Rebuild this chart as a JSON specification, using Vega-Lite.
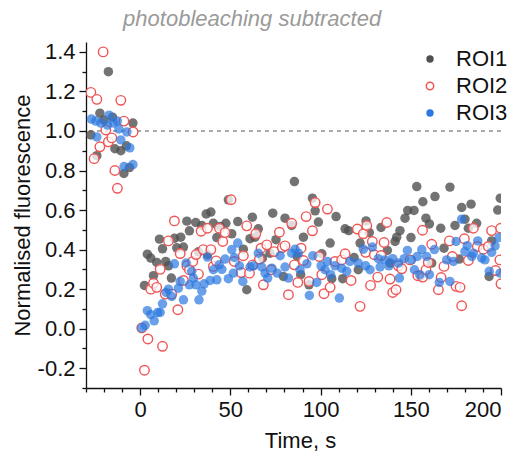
{
  "$schema": "https://vega.github.io/schema/vega-lite/v6.json",
  "width": 415,
  "height": 346,
  "autosize": {"type": "none"},
  "padding": {"left": 86, "top": 42, "right": 27, "bottom": 75},
  "background": "white",
  "config": {
    "view": {"stroke": null},
    "font": "Liberation Sans",
    "axis": {"grid": false, "domainColor": "#111", "tickColor": "#111", "domainWidth": 1.3, "tickWidth": 1.3, "labelColor": "#111", "titleColor": "#111", "labelFont": "Liberation Sans", "titleFont": "Liberation Sans", "titleFontWeight": "normal"}
  },
  "title": {"text": "photobleaching subtracted", "font": "Liberation Sans", "fontStyle": "italic", "fontWeight": "normal", "fontSize": 22, "color": "#9a9a9a", "anchor": "start", "dx": 112, "offset": 10},
  "data": {"values": [
    {"s":"ROI1","t":-27.3,"f":0.98},{"s":"ROI1","t":-24,"f":0.875},{"s":"ROI1","t":-22.3,"f":1.09},{"s":"ROI1","t":-20,"f":1.055},{"s":"ROI1","t":-17.6,"f":1.3},{"s":"ROI1","t":-15.3,"f":1.07},{"s":"ROI1","t":-14,"f":0.91},{"s":"ROI1","t":-10.7,"f":0.9},{"s":"ROI1","t":-9,"f":0.785},{"s":"ROI1","t":-7.6,"f":0.925},{"s":"ROI1","t":-5.9,"f":0.815},{"s":"ROI1","t":-4,"f":1.04},
    {"s":"ROI1","t":2.4,"f":0.219},{"s":"ROI1","t":4,"f":0.377},{"s":"ROI1","t":5.9,"f":0.357},{"s":"ROI1","t":7.4,"f":0.268},{"s":"ROI1","t":9.2,"f":0.335},{"s":"ROI1","t":10.7,"f":0.453},{"s":"ROI1","t":12.4,"f":0.404},{"s":"ROI1","t":14.2,"f":0.34},{"s":"ROI1","t":15.7,"f":0.318},{"s":"ROI1","t":17.3,"f":0.256},{"s":"ROI1","t":19,"f":0.457},{"s":"ROI1","t":20.3,"f":0.409},{"s":"ROI1","t":22.5,"f":0.463},{"s":"ROI1","t":24,"f":0.413},{"s":"ROI1","t":25.9,"f":0.544},{"s":"ROI1","t":27.3,"f":0.495},{"s":"ROI1","t":30.8,"f":0.537},{"s":"ROI1","t":32.3,"f":0.389},{"s":"ROI1","t":34.2,"f":0.522},{"s":"ROI1","t":36.6,"f":0.58},{"s":"ROI1","t":37.3,"f":0.374},{"s":"ROI1","t":39.2,"f":0.59},{"s":"ROI1","t":40.6,"f":0.533},{"s":"ROI1","t":42.5,"f":0.461},{"s":"ROI1","t":44.3,"f":0.517},{"s":"ROI1","t":47.5,"f":0.533},{"s":"ROI1","t":48.9,"f":0.652},{"s":"ROI1","t":50.8,"f":0.48},{"s":"ROI1","t":54.1,"f":0.542},{"s":"ROI1","t":57.2,"f":0.402},{"s":"ROI1","t":59.1,"f":0.197},{"s":"ROI1","t":60.9,"f":0.455},{"s":"ROI1","t":62.2,"f":0.564},{"s":"ROI1","t":63.7,"f":0.463},{"s":"ROI1","t":65.5,"f":0.505},{"s":"ROI1","t":67.8,"f":0.357},{"s":"ROI1","t":72,"f":0.382},{"s":"ROI1","t":73.5,"f":0.584},{"s":"ROI1","t":75.3,"f":0.45},{"s":"ROI1","t":79.4,"f":0.264},{"s":"ROI1","t":80.3,"f":0.559},{"s":"ROI1","t":84,"f":0.522},{"s":"ROI1","t":85.5,"f":0.744},{"s":"ROI1","t":87.1,"f":0.365},{"s":"ROI1","t":89,"f":0.273},{"s":"ROI1","t":90.5,"f":0.463},{"s":"ROI1","t":93.6,"f":0.222},{"s":"ROI1","t":95.5,"f":0.66},{"s":"ROI1","t":97,"f":0.596},{"s":"ROI1","t":98.8,"f":0.539},{"s":"ROI1","t":100.7,"f":0.379},{"s":"ROI1","t":105.3,"f":0.433},{"s":"ROI1","t":106.2,"f":0.253},{"s":"ROI1","t":108.6,"f":0.567},{"s":"ROI1","t":112.3,"f":0.253},{"s":"ROI1","t":113.6,"f":0.505},{"s":"ROI1","t":115.6,"f":0.496},{"s":"ROI1","t":118.6,"f":0.36},{"s":"ROI1","t":120.9,"f":0.298},{"s":"ROI1","t":121.9,"f":0.433},{"s":"ROI1","t":125.2,"f":0.545},{"s":"ROI1","t":127,"f":0.486},{"s":"ROI1","t":133.5,"f":0.512},{"s":"ROI1","t":137,"f":0.396},{"s":"ROI1","t":138.5,"f":0.332},{"s":"ROI1","t":141.3,"f":0.441},{"s":"ROI1","t":142.2,"f":0.463},{"s":"ROI1","t":144,"f":0.496},{"s":"ROI1","t":146.8,"f":0.559},{"s":"ROI1","t":148.3,"f":0.598},{"s":"ROI1","t":150.1,"f":0.461},{"s":"ROI1","t":151.8,"f":0.598},{"s":"ROI1","t":153.3,"f":0.719},{"s":"ROI1","t":155.1,"f":0.264},{"s":"ROI1","t":156.7,"f":0.642},{"s":"ROI1","t":158.4,"f":0.559},{"s":"ROI1","t":160.3,"f":0.53},{"s":"ROI1","t":161.6,"f":0.332},{"s":"ROI1","t":163.4,"f":0.668},{"s":"ROI1","t":166.6,"f":0.508},{"s":"ROI1","t":168.4,"f":0.407},{"s":"ROI1","t":171.7,"f":0.716},{"s":"ROI1","t":174.5,"f":0.522},{"s":"ROI1","t":176.9,"f":0.352},{"s":"ROI1","t":178.2,"f":0.613},{"s":"ROI1","t":180,"f":0.554},{"s":"ROI1","t":181.9,"f":0.508},{"s":"ROI1","t":183.4,"f":0.63},{"s":"ROI1","t":186.5,"f":0.533},{"s":"ROI1","t":193.4,"f":0.264},{"s":"ROI1","t":194.8,"f":0.444},{"s":"ROI1","t":198.2,"f":0.6},{"s":"ROI1","t":199.6,"f":0.66},
    {"s":"ROI2","t":-27.3,"f":1.195},{"s":"ROI2","t":-25.5,"f":0.86},{"s":"ROI2","t":-24,"f":1.16},{"s":"ROI2","t":-22.3,"f":0.92},{"s":"ROI2","t":-20.5,"f":1.4},{"s":"ROI2","t":-19,"f":1.005},{"s":"ROI2","t":-17.6,"f":0.945},{"s":"ROI2","t":-15.7,"f":0.965},{"s":"ROI2","t":-14,"f":0.8},{"s":"ROI2","t":-12.6,"f":0.71},{"s":"ROI2","t":-10.7,"f":1.155},{"s":"ROI2","t":-9,"f":1.05},{"s":"ROI2","t":-3.9,"f":0.995},
    {"s":"ROI2","t":0.9,"f":0.004},{"s":"ROI2","t":2.4,"f":-0.21},{"s":"ROI2","t":4.3,"f":-0.052},{"s":"ROI2","t":5.9,"f":0.2},{"s":"ROI2","t":7.4,"f":0.23},{"s":"ROI2","t":9.2,"f":0.209},{"s":"ROI2","t":11.1,"f":0.3},{"s":"ROI2","t":12.4,"f":-0.089},{"s":"ROI2","t":13.9,"f":0.175},{"s":"ROI2","t":15.7,"f":0.444},{"s":"ROI2","t":17.5,"f":0.175},{"s":"ROI2","t":19,"f":0.545},{"s":"ROI2","t":20.9,"f":0.096},{"s":"ROI2","t":22.2,"f":0.38},{"s":"ROI2","t":24,"f":0.244},{"s":"ROI2","t":25.9,"f":0.318},{"s":"ROI2","t":27.3,"f":0.298},{"s":"ROI2","t":29.2,"f":0.34},{"s":"ROI2","t":31,"f":0.375},{"s":"ROI2","t":32.3,"f":0.276},{"s":"ROI2","t":33.8,"f":0.493},{"s":"ROI2","t":35,"f":0.4},{"s":"ROI2","t":37.3,"f":0.508},{"s":"ROI2","t":39.2,"f":0.4},{"s":"ROI2","t":40.6,"f":0.315},{"s":"ROI2","t":42.1,"f":0.343},{"s":"ROI2","t":43.9,"f":0.508},{"s":"ROI2","t":45.8,"f":0.441},{"s":"ROI2","t":47.1,"f":0.486},{"s":"ROI2","t":50.4,"f":0.652},{"s":"ROI2","t":52.2,"f":0.34},{"s":"ROI2","t":56,"f":0.284},{"s":"ROI2","t":57.2,"f":0.369},{"s":"ROI2","t":59.1,"f":0.52},{"s":"ROI2","t":60.6,"f":0.281},{"s":"ROI2","t":62.4,"f":0.323},{"s":"ROI2","t":64.1,"f":0.48},{"s":"ROI2","t":66.1,"f":0.352},{"s":"ROI2","t":67,"f":0.407},{"s":"ROI2","t":68.3,"f":0.222},{"s":"ROI2","t":70.2,"f":0.424},{"s":"ROI2","t":72.6,"f":0.298},{"s":"ROI2","t":74.2,"f":0.39},{"s":"ROI2","t":77.2,"f":0.488},{"s":"ROI2","t":78.8,"f":0.41},{"s":"ROI2","t":80.3,"f":0.419},{"s":"ROI2","t":82.2,"f":0.172},{"s":"ROI2","t":84,"f":0.533},{"s":"ROI2","t":85.5,"f":0.323},{"s":"ROI2","t":87.4,"f":0.234},{"s":"ROI2","t":89.2,"f":0.407},{"s":"ROI2","t":90.5,"f":0.345},{"s":"ROI2","t":92,"f":0.567},{"s":"ROI2","t":93.6,"f":0.239},{"s":"ROI2","t":95.5,"f":0.495},{"s":"ROI2","t":97,"f":0.638},{"s":"ROI2","t":99.2,"f":0.365},{"s":"ROI2","t":100.7,"f":0.273},{"s":"ROI2","t":101.9,"f":0.177},{"s":"ROI2","t":103.8,"f":0.605},{"s":"ROI2","t":105.3,"f":0.209},{"s":"ROI2","t":108,"f":0.34},{"s":"ROI2","t":111.7,"f":0.348},{"s":"ROI2","t":113.6,"f":0.379},{"s":"ROI2","t":116.9,"f":0.244},{"s":"ROI2","t":120.4,"f":0.504},{"s":"ROI2","t":121.9,"f":0.113},{"s":"ROI2","t":123.7,"f":0.48},{"s":"ROI2","t":125,"f":0.386},{"s":"ROI2","t":125.6,"f":0.522},{"s":"ROI2","t":127.7,"f":0.219},{"s":"ROI2","t":128.7,"f":0.441},{"s":"ROI2","t":129.8,"f":0.374},{"s":"ROI2","t":131.7,"f":0.261},{"s":"ROI2","t":133.5,"f":0.37},{"s":"ROI2","t":135.2,"f":0.436},{"s":"ROI2","t":136.7,"f":0.537},{"s":"ROI2","t":138.5,"f":0.251},{"s":"ROI2","t":140,"f":0.183},{"s":"ROI2","t":141.8,"f":0.197},{"s":"ROI2","t":143.1,"f":0.318},{"s":"ROI2","t":145,"f":0.303},{"s":"ROI2","t":149.6,"f":0.348},{"s":"ROI2","t":153.9,"f":0.268},{"s":"ROI2","t":156.5,"f":0.498},{"s":"ROI2","t":156.6,"f":0.261},{"s":"ROI2","t":158.4,"f":0.298},{"s":"ROI2","t":159.7,"f":0.335},{"s":"ROI2","t":161.6,"f":0.427},{"s":"ROI2","t":165.3,"f":0.197},{"s":"ROI2","t":166.8,"f":0.259},{"s":"ROI2","t":168.4,"f":0.315},{"s":"ROI2","t":171.4,"f":0.444},{"s":"ROI2","t":173,"f":0.365},{"s":"ROI2","t":175.1,"f":0.214},{"s":"ROI2","t":177.3,"f":0.209},{"s":"ROI2","t":178.2,"f":0.116},{"s":"ROI2","t":179.7,"f":0.455},{"s":"ROI2","t":181.9,"f":0.345},{"s":"ROI2","t":184.7,"f":0.508},{"s":"ROI2","t":186.9,"f":0.416},{"s":"ROI2","t":190.2,"f":0.402},{"s":"ROI2","t":193,"f":0.416},{"s":"ROI2","t":194.8,"f":0.496},{"s":"ROI2","t":197,"f":0.294},{"s":"ROI2","t":199.4,"f":0.348},{"s":"ROI2","t":199.8,"f":0.508},{"s":"ROI2","t":200,"f":0.227},
    {"s":"ROI3","t":-27,"f":1.06},{"s":"ROI3","t":-24.6,"f":1.05},{"s":"ROI3","t":-24,"f":0.97},{"s":"ROI3","t":-21.8,"f":1.04},{"s":"ROI3","t":-18.1,"f":1.03},{"s":"ROI3","t":-17.2,"f":1.08},{"s":"ROI3","t":-14.8,"f":1.04},{"s":"ROI3","t":-12.6,"f":1.05},{"s":"ROI3","t":-11.8,"f":1.01},{"s":"ROI3","t":-10.7,"f":0.955},{"s":"ROI3","t":-8.9,"f":0.82},{"s":"ROI3","t":-7.4,"f":0.995},{"s":"ROI3","t":-5.7,"f":0.915},{"s":"ROI3","t":-4,"f":0.83},
    {"s":"ROI3","t":0.9,"f":0.004},{"s":"ROI3","t":2.8,"f":0.017},{"s":"ROI3","t":4,"f":0.091},{"s":"ROI3","t":5.9,"f":0.071},{"s":"ROI3","t":7.8,"f":0.04},{"s":"ROI3","t":9.8,"f":0.082},{"s":"ROI3","t":11.1,"f":0.082},{"s":"ROI3","t":12.4,"f":0.126},{"s":"ROI3","t":14.4,"f":0.183},{"s":"ROI3","t":15.7,"f":0.2},{"s":"ROI3","t":17.5,"f":0.163},{"s":"ROI3","t":19,"f":0.328},{"s":"ROI3","t":21.2,"f":0.205},{"s":"ROI3","t":22.2,"f":0.239},{"s":"ROI3","t":24,"f":0.146},{"s":"ROI3","t":25.5,"f":0.332},{"s":"ROI3","t":27.3,"f":0.222},{"s":"ROI3","t":28.6,"f":0.29},{"s":"ROI3","t":29.5,"f":0.256},{"s":"ROI3","t":31,"f":0.222},{"s":"ROI3","t":32.6,"f":0.146},{"s":"ROI3","t":34.2,"f":0.19},{"s":"ROI3","t":35.5,"f":0.227},{"s":"ROI3","t":37.3,"f":0.362},{"s":"ROI3","t":38.8,"f":0.244},{"s":"ROI3","t":40.6,"f":0.298},{"s":"ROI3","t":42.5,"f":0.247},{"s":"ROI3","t":43.8,"f":0.323},{"s":"ROI3","t":45.3,"f":0.3},{"s":"ROI3","t":47.1,"f":0.352},{"s":"ROI3","t":48.9,"f":0.253},{"s":"ROI3","t":50.8,"f":0.4},{"s":"ROI3","t":51.7,"f":0.281},{"s":"ROI3","t":52.2,"f":0.36},{"s":"ROI3","t":54.1,"f":0.433},{"s":"ROI3","t":55,"f":0.318},{"s":"ROI3","t":56.9,"f":0.239},{"s":"ROI3","t":60.9,"f":0.312},{"s":"ROI3","t":62.8,"f":0.318},{"s":"ROI3","t":65.5,"f":0.382},{"s":"ROI3","t":67.4,"f":0.312},{"s":"ROI3","t":69.3,"f":0.281},{"s":"ROI3","t":70.7,"f":0.256},{"s":"ROI3","t":73,"f":0.306},{"s":"ROI3","t":76,"f":0.281},{"s":"ROI3","t":77.6,"f":0.369},{"s":"ROI3","t":80.3,"f":0.312},{"s":"ROI3","t":82.2,"f":0.256},{"s":"ROI3","t":84,"f":0.382},{"s":"ROI3","t":85.9,"f":0.402},{"s":"ROI3","t":87.7,"f":0.382},{"s":"ROI3","t":88.6,"f":0.298},{"s":"ROI3","t":92.4,"f":0.328},{"s":"ROI3","t":93.8,"f":0.168},{"s":"ROI3","t":95.7,"f":0.369},{"s":"ROI3","t":97.9,"f":0.234},{"s":"ROI3","t":100.3,"f":0.318},{"s":"ROI3","t":102.5,"f":0.298},{"s":"ROI3","t":103.8,"f":0.34},{"s":"ROI3","t":105.6,"f":0.273},{"s":"ROI3","t":108,"f":0.318},{"s":"ROI3","t":110.4,"f":0.155},{"s":"ROI3","t":111.7,"f":0.306},{"s":"ROI3","t":114.5,"f":0.29},{"s":"ROI3","t":116.3,"f":0.34},{"s":"ROI3","t":120.9,"f":0.332},{"s":"ROI3","t":123.7,"f":0.402},{"s":"ROI3","t":125,"f":0.318},{"s":"ROI3","t":127.4,"f":0.298},{"s":"ROI3","t":128.7,"f":0.413},{"s":"ROI3","t":132,"f":0.354},{"s":"ROI3","t":133,"f":0.312},{"s":"ROI3","t":135.7,"f":0.348},{"s":"ROI3","t":137.9,"f":0.318},{"s":"ROI3","t":140,"f":0.354},{"s":"ROI3","t":143.1,"f":0.332},{"s":"ROI3","t":143.7,"f":0.256},{"s":"ROI3","t":146.4,"f":0.354},{"s":"ROI3","t":148.1,"f":0.396},{"s":"ROI3","t":150.4,"f":0.348},{"s":"ROI3","t":152,"f":0.298},{"s":"ROI3","t":153.6,"f":0.365},{"s":"ROI3","t":155,"f":0.273},{"s":"ROI3","t":156.1,"f":0.4},{"s":"ROI3","t":158.8,"f":0.365},{"s":"ROI3","t":160.3,"f":0.273},{"s":"ROI3","t":163.1,"f":0.4},{"s":"ROI3","t":165.8,"f":0.234},{"s":"ROI3","t":169.9,"f":0.348},{"s":"ROI3","t":171.7,"f":0.239},{"s":"ROI3","t":173.6,"f":0.34},{"s":"ROI3","t":175.1,"f":0.441},{"s":"ROI3","t":178.2,"f":0.554},{"s":"ROI3","t":180,"f":0.39},{"s":"ROI3","t":181.3,"f":0.42},{"s":"ROI3","t":183.8,"f":0.365},{"s":"ROI3","t":184.7,"f":0.382},{"s":"ROI3","t":187.1,"f":0.444},{"s":"ROI3","t":189.3,"f":0.357},{"s":"ROI3","t":191.1,"f":0.348},{"s":"ROI3","t":193.5,"f":0.29},{"s":"ROI3","t":194.8,"f":0.386},{"s":"ROI3","t":196.7,"f":0.419},{"s":"ROI3","t":198.9,"f":0.461},{"s":"ROI3","t":199.5,"f":0.281}
  ]},
  "resolve": {"axis": {"x": "independent", "y": "independent"}},
  "layer": [
    {
      "mark": {"type": "rule", "strokeDash": [4, 4], "color": "#aaaaaa", "strokeWidth": 1.3},
      "encoding": {
        "y": {"datum": 1, "type": "quantitative", "scale": {"domain": [-0.3, 1.45], "nice": false, "zero": false},
          "axis": {"orient": "left", "values": [-0.3, -0.1, 0.1, 0.3, 0.5, 0.7, 0.9, 1.1, 1.3], "labels": false, "title": null, "domain": false, "tickSize": 4}}
      }
    },
    {
      "mark": {"type": "rule", "opacity": 0},
      "encoding": {
        "x": {"datum": -30, "type": "quantitative", "scale": {"domain": [-30, 200], "nice": false, "zero": false},
          "axis": {"orient": "bottom", "values": [-30, -20, -10, 10, 20, 30, 40, 60, 70, 80, 90, 110, 120, 130, 140, 160, 170, 180, 190], "labels": false, "title": null, "domain": false, "tickSize": 4}}
      }
    },
    {
      "mark": {"type": "point", "filled": false, "size": 90, "strokeWidth": 1.4, "opacity": 1, "clip": true},
      "encoding": {
        "x": {"field": "t", "type": "quantitative", "scale": {"domain": [-30, 200], "nice": false, "zero": false},
          "axis": {"orient": "bottom", "values": [0, 50, 100, 150, 200], "title": "Time, s", "tickSize": 7, "labelFontSize": 22, "titleFontSize": 22, "labelPadding": 4, "titlePadding": 10, "titleX": 214}},
        "y": {"field": "f", "type": "quantitative", "scale": {"domain": [-0.3, 1.45], "nice": false, "zero": false},
          "axis": {"orient": "left", "values": [-0.2, 0, 0.2, 0.4, 0.6, 0.8, 1, 1.2, 1.4], "format": ".1f", "labelExpr": "replace(datum.label, '\u2212', '-')", "title": "Normalised fluorescence", "tickSize": 7, "labelFontSize": 22, "titleFontSize": 22, "labelPadding": 4, "titlePadding": 3}},
        "fill": {"field": "s", "type": "nominal", "scale": {"domain": ["ROI1", "ROI2", "ROI3"], "range": ["#505050", "#ffffff", "#2a78e0"]},
          "legend": {"title": null, "orient": "none", "legendX": 333, "legendY": 6, "labelFontSize": 22, "labelFont": "Liberation Sans", "labelColor": "#111", "symbolSize": 55, "rowPadding": 5, "labelOffset": 15, "padding": 0}},
        "stroke": {"field": "s", "type": "nominal", "scale": {"domain": ["ROI1", "ROI2", "ROI3"], "range": ["transparent", "#f05555", "transparent"]}},
        "fillOpacity": {"field": "s", "type": "nominal", "scale": {"domain": ["ROI1", "ROI2", "ROI3"], "range": [0.8, 0.7, 0.82]}}
      }
    }
  ]
}
